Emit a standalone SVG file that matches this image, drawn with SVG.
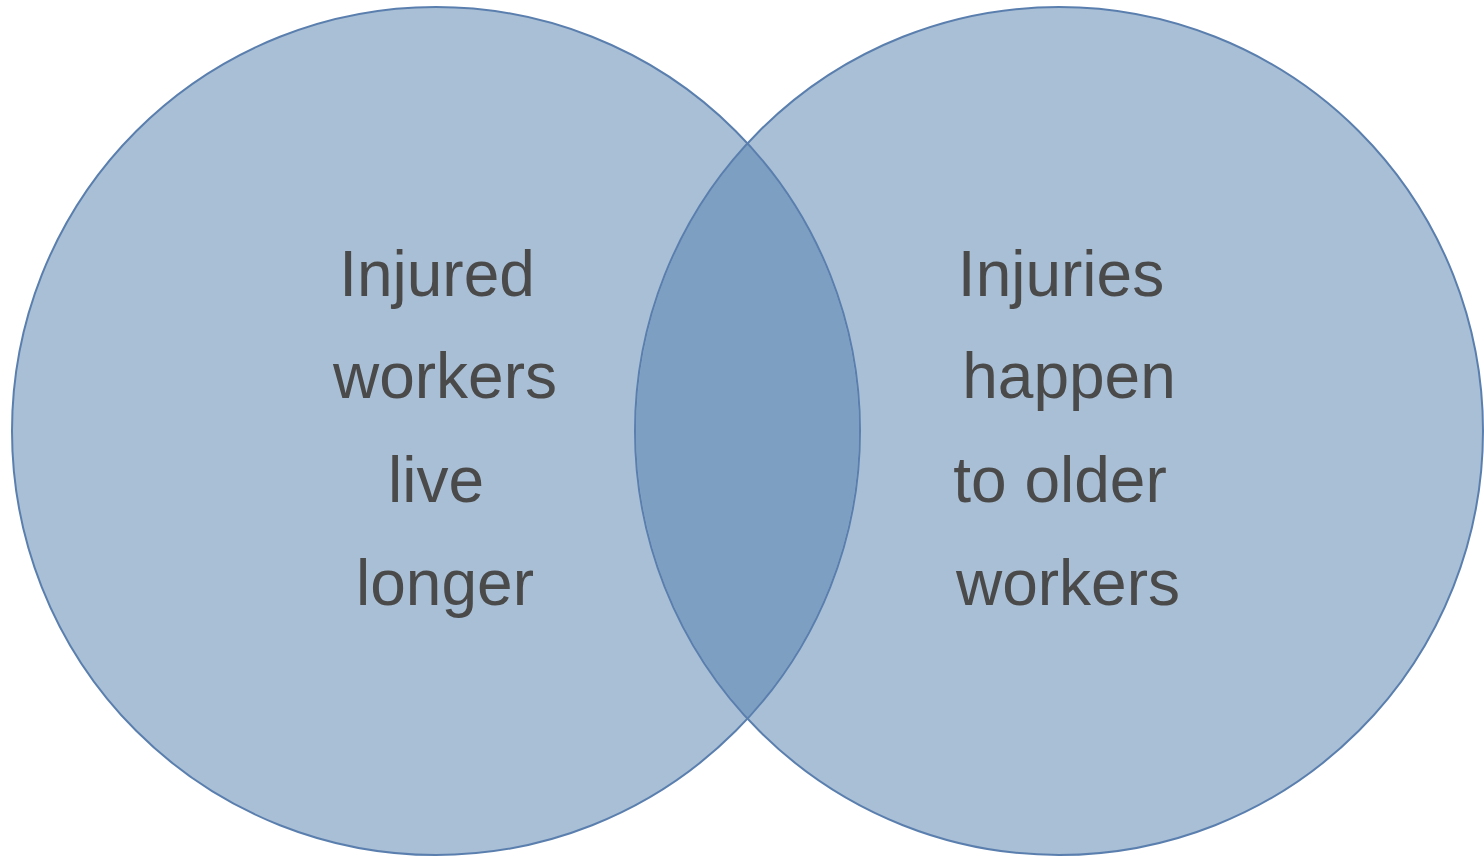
<svg xmlns="http://www.w3.org/2000/svg" width="1484" height="857" viewBox="0 0 1484 857">
  <style>
    .set { fill: #a9bfd5; stroke: none; }
    .rim { fill: none; stroke: #5a7fae; stroke-width: 2; }
    .lens { fill: #7d9fc2; stroke: none; }
    .label { font-family: "Liberation Sans", Arial, sans-serif; font-size: 64px; fill: #4a4a4a; text-anchor: middle; }
  </style>
  <rect width="1484" height="857" fill="#ffffff"/>

  <g id="set-left">
    <circle class="set" cx="436" cy="431" r="424"/>
  </g>
  <g id="set-right">
    <circle class="set" cx="1059" cy="431" r="424"/>
  </g>
  <g id="overlap">
    <path class="lens" d="M747.5 144.5 A424 424 0 0 1 747.5 717.5 A424 424 0 0 1 747.5 144.5 Z"/>
  </g>
  <g id="outlines">
    <circle class="rim" cx="436" cy="431" r="424"/>
    <circle class="rim" cx="1059" cy="431" r="424"/>
  </g>

  <g id="label-left">
    <text class="label" x="437" y="296">Injured</text>
    <text class="label" x="445" y="398">workers</text>
    <text class="label" x="436" y="502">live</text>
    <text class="label" x="445" y="605">longer</text>
  </g>
  <g id="label-right">
    <text class="label" x="1061" y="296">Injuries</text>
    <text class="label" x="1069" y="398">happen</text>
    <text class="label" x="1060" y="502">to older</text>
    <text class="label" x="1068" y="605">workers</text>
  </g>
</svg>
